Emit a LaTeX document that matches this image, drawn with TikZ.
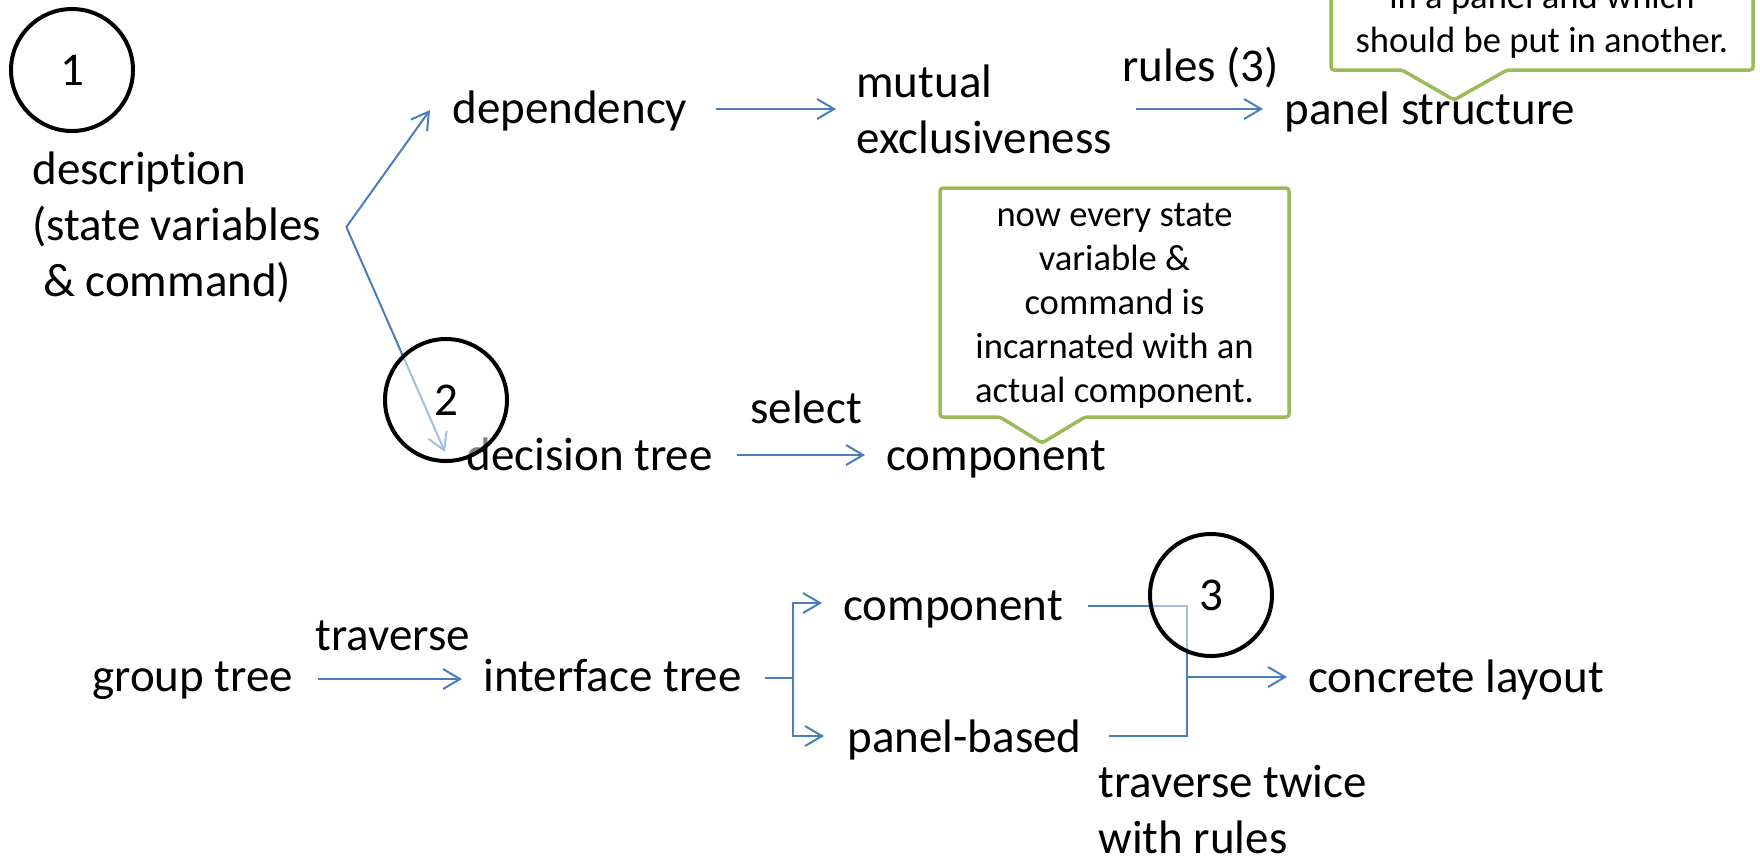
\documentclass[tikz,border=0pt]{standalone}
\usepackage{fontspec}
\setmainfont{Carlito}[Ligatures=NoCommon]
\usetikzlibrary{arrows.meta}
\definecolor{flowblue}{HTML}{4A7EBB}
\definecolor{notegreen}{HTML}{9BBB59}
\tikzset{
  lbl/.style={inner sep=0pt, anchor=base west, font=\fontsize{23.5}{28}\selectfont},
  flow/.style={draw=flowblue, line width=1pt},
  arr/.style={flow, -{Straight Barb[length=8.5pt,width=10pt]}},
  numcircle/.style={circle, draw=black, line width=2pt, minimum size=61pt, inner sep=0pt,
    fill=white, fill opacity=0.5, text opacity=1, font=\fontsize{23.5}{28}\selectfont},
  callout/.style={draw=notegreen, line width=1.75pt, fill=white, rounded corners=1.5pt, line join=round},
  notetext/.style={inner sep=0pt, anchor=base, align=center, font=\fontsize{18.3}{22}\selectfont}
}
\begin{document}
\begin{tikzpicture}[x=0.5pt,y=-0.5pt]
\useasboundingbox (0,0) rectangle (1760,859);
\clip (0,0) rectangle (1760,859);

% labels (multi-line labels are placed by the baseline of their last line)
\node[lbl, align=left] (desc) at (32,296) {description\\(state variables\\~\& command)};
\node[lbl] (dep) at (452,123) {dependency};
\node[lbl, align=left] (mutex) at (856,153) {mutual\\exclusiveness};
\node[lbl] (rules) at (1122,81) {rules (3)};
\node[lbl] (panel) at (1284,124) {panel structure};
\node[lbl] (dtree) at (466,470) {decision tree};
\node[lbl] (select) at (750,423) {select};
\node[lbl] (comp) at (886,470) {component};
\node[lbl] (group) at (92,691) {group tree};
\node[lbl] (trav) at (315,650) {traverse};
\node[lbl] (iface) at (483,691) {interface tree};
\node[lbl] (bcomp) at (843,620) {component};
\node[lbl] (pbased) at (847,752) {panel-based};
\node[lbl] (layout) at (1308,692) {concrete layout};
\node[lbl, align=left] (twice) at (1098,853) {traverse twice\\with rules};

% upper flow
\coordinate (split) at ([shift={(25,0)}]desc.east);
\draw[arr] (split) -- ([shift={(-22,-13)}]dep.base west);
\draw[arr] (split) -- ([shift={(-21,-18)}]dtree.base west);
\draw[arr] ([shift={(28,-14)}]dep.base east) -- ([shift={(-20,-44)}]mutex.base west);
\draw[arr] ([shift={(24,0)}]mutex.east |- panel.base east) ++(0,-15) -- ([shift={(-21,-15)}]panel.base west);
\draw[arr] ([shift={(24,-15)}]dtree.base east) -- ([shift={(-21,-15)}]comp.base west);

% lower flow
\draw[arr] ([shift={(24,-12)}]group.base east) -- ([shift={(-21,-12)}]iface.base west);
\coordinate (fork) at ([shift={(51,-13)}]iface.base east);
\draw[flow] ([shift={(23,-13)}]iface.base east) -- (fork);
\draw[arr] (fork) |- ([shift={(-21,-17)}]bcomp.base west);
\draw[arr] (fork) |- ([shift={(-23,-16)}]pbased.base west);
\coordinate (join) at ([shift={(-121,-15)}]layout.base west);
\draw[flow] ([shift={(25,-14)}]bcomp.base east) -| (join);
\draw[flow] ([shift={(27,-16)}]pbased.base east) -| (join);
\draw[arr] (join) -- ([shift={(-21,-15)}]layout.base west);

% step markers
\node[numcircle] (n1) at (72,70) {1};
\node[numcircle] (n2) at (446,400) {2};
\node[numcircle] (n3) at (1211,595) {3};

% callouts
\draw[callout] (940,188) -- (1289,188) -- (1289,417) -- (1085,417) -- (1042,443)
  -- (1000,417) -- (940,417) -- cycle;
\node[notetext] (note2) at (1114.5,402) {now every state\\variable \&\\command is\\incarnated with an\\actual component.};
\draw[callout] (1331,-60) -- (1753,-60) -- (1753,70) -- (1507,70) -- (1454,100)
  -- (1402,70) -- (1331,70) -- cycle;
\node[notetext] (note1) at (1542,52) {in a panel and which\\should be put in another.};
\end{tikzpicture}
\end{document}
